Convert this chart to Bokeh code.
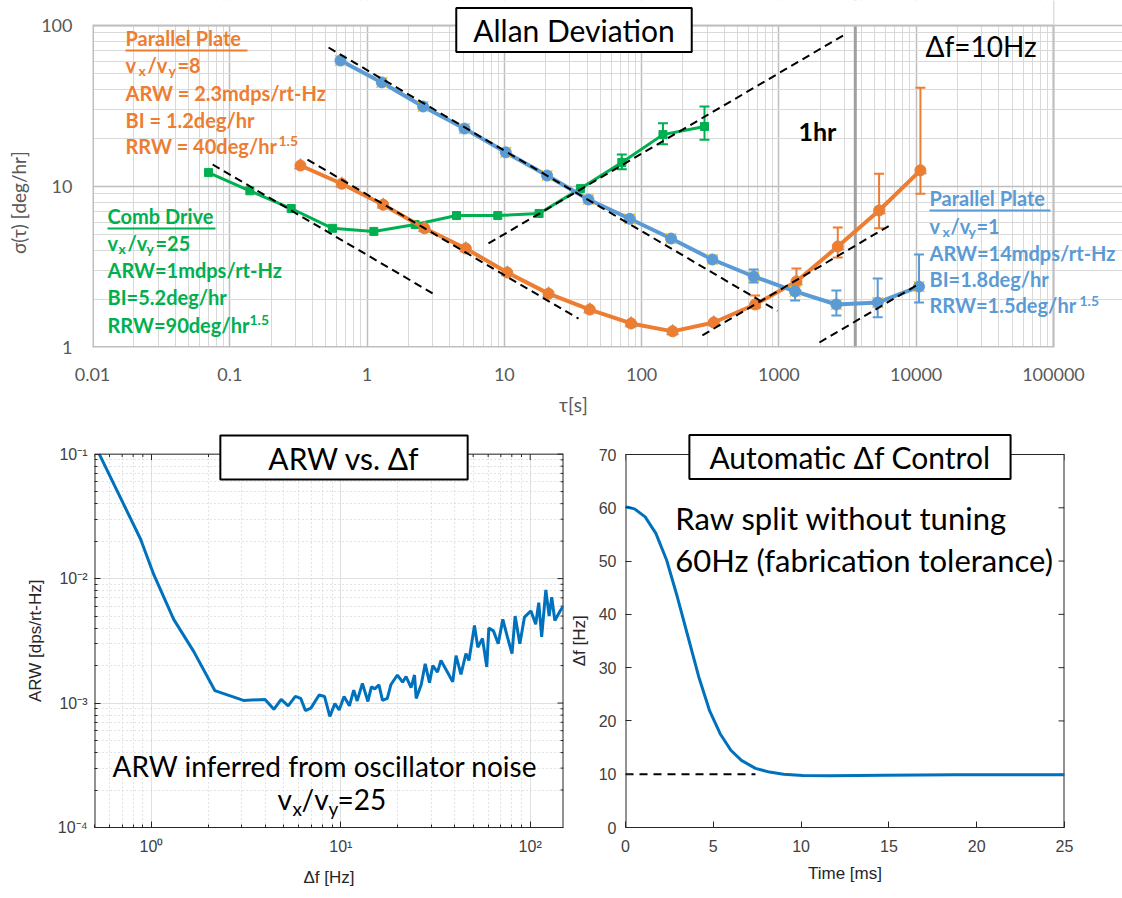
from math import log10
from bokeh.plotting import figure
from bokeh.layouts import column, row
from bokeh.models import (Label, Whisker, ColumnDataSource, TeeHead, FixedTicker,
                          Span, CustomJSTickFormatter)
from bokeh.embed import file_html
from bokeh.resources import INLINE

# ---------------- Allan deviation data (tau [s], sigma [deg/hr]) ----------------
# Parallel plate, vx/vy = 1 (blue)
pp1_tau = [0.64, 1.28, 2.56, 5.12, 10.24, 20.48, 40.96, 81.92, 163.84, 327.68,
           655.36, 1310.72, 2621.44, 5242.88, 10485.76]
pp1_sigma = [60.6, 44.3, 31.4, 22.9, 16.3, 11.7, 8.3, 6.3, 4.75, 3.52,
             2.76, 2.23, 1.85, 1.90, 2.39]
pp1_err_tau = [327.68, 655.36, 1310.72, 2621.44, 5242.88, 10485.76]
pp1_err_lo = [3.35, 2.53, 1.96, 1.58, 1.54, 1.90]
pp1_err_hi = [3.70, 3.05, 2.36, 2.26, 2.68, 3.78]

# Parallel plate, vx/vy = 8 (orange)
pp8_tau = [0.327, 0.654, 1.31, 2.62, 5.24, 10.5, 21.0, 41.9, 83.8, 168,
           335, 671, 1341, 2683, 5366, 10732]
pp8_sigma = [13.5, 10.4, 7.7, 5.5, 4.12, 2.92, 2.16, 1.72, 1.41, 1.26,
             1.43, 1.85, 2.57, 4.24, 7.1, 12.6]
pp8_err_tau = [671, 1341, 2683, 5366, 10732]
pp8_err_lo = [1.75, 2.26, 3.62, 5.5, 9.0]
pp8_err_hi = [2.1, 3.1, 5.57, 12.0, 41.0]

# Comb drive, vx/vy = 25 (green)
cd_tau = [0.07, 0.14, 0.28, 0.56, 1.12, 2.24, 4.48, 8.96, 17.9, 35.8, 71.7, 143, 287]
cd_sigma = [12.2, 9.4, 7.3, 5.5, 5.26, 5.8, 6.6, 6.6, 6.8, 9.7, 14.1, 21.0, 23.6]
cd_err_tau = [71.7, 143, 287]
cd_err_lo = [12.8, 18.3, 19.5]
cd_err_hi = [15.8, 24.7, 31.4]

# Dashed fit lines (ARW slope -1/2, RRW slope +1/2): endpoints
fit_tau0 = [0.524, 0.368, 0.075, 7.66, 277, 1972]
fit_sig0 = [73.0, 14.7, 13.7, 4.43, 1.19, 1.074]
fit_tau1 = [975, 34.7, 3.0, 2951, 6714, 10380]
fit_sig1 = [1.69, 1.51, 2.17, 86.9, 5.86, 2.47]

one_hour_s = 3600

x_ticks_top = [0.01, 0.1, 1, 10, 100, 1000, 10000, 100000]
y_ticks_top = [1, 10, 100]

# ---------------- ARW vs delta f ----------------
arw_f = [0.53, 0.875, 1.03, 1.31, 1.67, 2.16, 3.06, 3.98, 4.43, 4.84, 5.27, 5.75,
         6.14, 6.5, 6.95, 7.68, 8.2, 8.75, 9.3, 9.8, 10.4, 11.1, 11.7, 12.2, 13.0,
         13.9, 14.5, 15.1, 15.9, 16.6, 17.6, 18.4, 19.9, 21.2, 22.1, 23.5, 24.5,
         25.0, 26.6, 27.9, 29.4, 30.6, 32.4, 33.8, 36.6, 39.0, 40.6, 43.1, 45.8,
         47.5, 50.8, 52.9, 56.0, 59.0, 60.5, 64.0, 67.8, 71.7, 75.8, 80.2, 83.3,
         88.2, 93.3, 101, 107, 111, 115, 121, 126, 130, 135, 144, 150]
arw_val = [0.1, 0.0208, 0.0107, 0.0047, 0.0026, 0.00126, 0.00105, 0.00107, 0.00089,
           0.00107, 0.00095, 0.00113, 0.00109, 0.00087, 0.00091, 0.00116, 0.00113,
           0.00078, 0.00099, 0.00088, 0.00113, 0.00095, 0.00127, 0.00104, 0.00144,
           0.00103, 0.00135, 0.0013, 0.0014, 0.00105, 0.00109, 0.00141, 0.00168,
           0.00147, 0.00163, 0.00133, 0.00168, 0.00109, 0.00141, 0.00207, 0.00146,
           0.002, 0.00177, 0.0022, 0.00177, 0.00148, 0.0024, 0.0017, 0.0025, 0.0022,
           0.0042, 0.0028, 0.0033, 0.00195, 0.004, 0.0038, 0.003, 0.0047, 0.0034,
           0.0025, 0.005, 0.003, 0.0049, 0.0055, 0.0043, 0.0064, 0.0034, 0.0081,
           0.005, 0.0071, 0.0046, 0.0055, 0.006]

# ---------------- Automatic delta f control ----------------
t_ms = [0, 0.51, 1.12, 1.73, 2.34, 2.95, 3.56, 4.17, 4.78, 5.39, 6.0, 6.6, 7.4,
        8.2, 9.0, 10.1, 11.7, 14.7, 18.8, 25]
split_hz = [60.2, 59.8, 58.3, 55.2, 50.2, 43.3, 35.8, 28.3, 22.0, 17.6, 14.5, 12.6,
            11.1, 10.4, 10.0, 9.75, 9.7, 9.8, 9.9, 9.9]
target_t = [0, 7.4]
target_hz = [10, 10]

ORANGE = "#ED7D31"
BLUE = "#5B9BD5"
GREEN = "#00B050"
MBLUE = "#0072BD"
NB = "\u00a0"


def log_map(p0, p1, v0, v1):
    a, b = log10(v0), log10(v1)
    return lambda px: 10 ** (a + (px - p0) / (p1 - p0) * (b - a))


def lin_map(p0, p1, v0, v1):
    return lambda px: v0 + (px - p0) / (p1 - p0) * (v1 - v0)


def txt(fig, fx, fy, px, py, s, size, color="black", bold=False, font="Lato"):
    # py is the wanted baseline; the label anchor sits ~0.4em above it
    fig.add_layout(Label(x=fx(px), y=fy(py - 0.4 * size), text=s, text_font=font,
                         text_font_size=f"{size}px", text_color=color,
                         text_font_style="bold" if bold else "normal",
                         text_align="left", text_baseline="alphabetic"))


def ratio(fig, fx, fy, xs, base, dsub, big, small, color, bold, tail):
    parts = [("v", 0, big), ("x", dsub, small), ("/v", 0, big), ("y", dsub, small),
             (tail, 0, big)]
    for (s, dy, sz), x in zip(parts, xs):
        txt(fig, fx, fy, x, base + dy, s, sz, color, bold)


def boxed(fig, fx, fy, cx, cy, s, size, pad):
    fig.add_layout(Label(x=fx(cx), y=fy(cy), text=s, text_font="Lato",
                         text_font_size=f"{size}px", text_color="black",
                         text_align="center", text_baseline="middle",
                         background_fill_color="white", border_line_color="black",
                         border_line_width=2, padding=pad))


def minors(e0, e1, mant=range(2, 10)):
    return [m * 10.0 ** e for e in range(e0, e1) for m in mant]


# ======================= Top: Allan deviation =======================
fx1 = log_map(92, 1053, 0.01, 1e5)
fy1 = log_map(347, 25, 1, 100)
p1 = figure(width=1122, height=430, x_axis_type="log", y_axis_type="log",
            x_range=(0.01, fx1(1122)), y_range=(1, fy1(0)), output_backend="svg",
            toolbar_location=None, min_border_left=92, min_border_right=0,
            min_border_top=0, min_border_bottom=83)
p1.outline_line_color = None
p1.xaxis.ticker = FixedTicker(ticks=x_ticks_top, minor_ticks=minors(-2, 5))
p1.yaxis.ticker = FixedTicker(ticks=y_ticks_top, minor_ticks=minors(0, 2))
fmt = CustomJSTickFormatter(code="return tick.toString();")
for ax in (p1.xaxis, p1.yaxis):
    ax.formatter = fmt
    ax.axis_line_color = None
    ax.major_tick_line_color = None
    ax.minor_tick_line_color = None
    ax.major_tick_out = 0
    ax.minor_tick_out = 0
    ax.major_label_text_font = "Lato"
    ax.major_label_text_font_size = "18px"
    ax.major_label_text_color = "#595959"
    ax.axis_label_text_font = "Lato"
    ax.axis_label_text_font_size = "19px"
    ax.axis_label_text_color = "#595959"
    ax.axis_label_text_font_style = "normal"
p1.xaxis.major_label_standoff = 20
p1.yaxis.major_label_standoff = 20
p1.xaxis.axis_label = "τ[s]" + NB * 14
p1.yaxis.axis_label = "σ(τ) [deg/hr]" + NB * 12
p1.xaxis.axis_label_standoff = 9
p1.yaxis.axis_label_standoff = 8
for g in (p1.xgrid, p1.ygrid):
    g.grid_line_color = "#BEBEBE"
    g.grid_line_width = 1.5
    g.minor_grid_line_color = "#D9D9D9"
    g.minor_grid_line_width = 1

p1.add_layout(Span(location=one_hour_s, dimension="height", line_color="#A0A0A0",
                   line_width=3, level="underlay"))
# white strip above the plot area and the plot border
p1.quad(left=[0.01], right=[1e5], bottom=[100], top=[fy1(0)], fill_color="white",
        line_color=None)
p1.segment(x0=[0.01, 0.01, 0.01, 1e5], y0=[1, 100, 1, 1],
           x1=[1e5, 1e5, 0.01, 1e5], y1=[1, 100, 100, 100],
           line_color="#BFBFBF", line_width=[3, 2, 3, 2])

# series
p1.line(cd_tau, cd_sigma, line_color=GREEN, line_width=3)
p1.scatter(cd_tau, cd_sigma, marker="square", size=8, fill_color=GREEN, line_color=GREEN)

p1.line(pp8_tau, pp8_sigma, line_color=ORANGE, line_width=4)
p1.scatter(pp8_tau, pp8_sigma, marker="triangle", size=12, fill_color="#A5A5A5",
           line_color="#A5A5A5")
p1.scatter(pp8_tau, pp8_sigma, marker="circle", size=11, fill_color=ORANGE, line_color=ORANGE)

p1.line(pp1_tau, pp1_sigma, line_color=BLUE, line_width=4)
p1.scatter(pp1_tau, pp1_sigma, marker="x", size=15, line_color="#FFC000", line_width=1.5)
p1.scatter(pp1_tau, pp1_sigma, marker="circle", size=11, fill_color=BLUE, line_color=BLUE)

for tau, lo, hi, col in ((pp1_err_tau, pp1_err_lo, pp1_err_hi, BLUE),
                         (pp8_err_tau, pp8_err_lo, pp8_err_hi, ORANGE),
                         (cd_err_tau, cd_err_lo, cd_err_hi, GREEN)):
    src = ColumnDataSource(dict(base=tau, lower=lo, upper=hi))
    p1.add_layout(Whisker(source=src, base="base", lower="lower", upper="upper",
                          line_color=col, line_width=2,
                          upper_head=TeeHead(size=10, line_color=col, line_width=2),
                          lower_head=TeeHead(size=10, line_color=col, line_width=2)))

p1.segment(x0=fit_tau0, y0=fit_sig0, x1=fit_tau1, y1=fit_sig1, line_color="black",
           line_width=2, line_dash="8 5")

# text blocks
txt(p1, fx1, fy1, 125, 45, "Parallel Plate", 20, ORANGE, True)
ratio(p1, fx1, fy1, [125, 138, 147, 168, 177], 72, 4, 20, 14, ORANGE, True, "=8")
txt(p1, fx1, fy1, 125, 100, "ARW = 2.3mdps/rt-Hz", 20, ORANGE, True)
txt(p1, fx1, fy1, 125, 127, "BI = 1.2deg/hr", 20, ORANGE, True)
txt(p1, fx1, fy1, 125, 153, "RRW = 40deg/hr", 20, ORANGE, True)
txt(p1, fx1, fy1, 278, 146, "1.5", 14, ORANGE, True)

txt(p1, fx1, fy1, 107, 223, "Comb Drive", 20, GREEN, True)
ratio(p1, fx1, fy1, [107, 118, 127, 146, 155], 250, 4, 20, 14, GREEN, True, "=25")
txt(p1, fx1, fy1, 107, 277, "ARW=1mdps/rt-Hz", 20, GREEN, True)
txt(p1, fx1, fy1, 107, 304, "BI=5.2deg/hr", 20, GREEN, True)
txt(p1, fx1, fy1, 107, 332, "RRW=90deg/hr", 20, GREEN, True)
txt(p1, fx1, fy1, 249, 325, "1.5", 14, GREEN, True)

txt(p1, fx1, fy1, 929, 205, "Parallel Plate", 20, BLUE, True)
ratio(p1, fx1, fy1, [929, 942, 950, 968, 976], 233, 4, 20, 14, BLUE, True, "=1")
txt(p1, fx1, fy1, 929, 260, "ARW=14mdps/rt-Hz", 20, BLUE, True)
txt(p1, fx1, fy1, 929, 286, "BI=1.8deg/hr", 20, BLUE, True)
txt(p1, fx1, fy1, 929, 312, "RRW=1.5deg/hr", 20, BLUE, True)
txt(p1, fx1, fy1, 1079, 306, "1.5", 14, BLUE, True)

ul_x0 = [125, 107, 929]
ul_x1 = [247, 215, 1050]
ul_y = [50, 228, 210]
p1.segment(x0=[fx1(v) for v in ul_x0], x1=[fx1(v) for v in ul_x1],
           y0=[fy1(v) for v in ul_y], y1=[fy1(v) for v in ul_y],
           line_color=[ORANGE, GREEN, BLUE], line_width=2)

txt(p1, fx1, fy1, 798, 140, "1hr", 25, "black", True)
txt(p1, fx1, fy1, 925, 57, "Δf=10Hz", 28, "black", False)
boxed(p1, fx1, fy1, 573.5, 29.5, "Allan Deviation", 30, (17, 4))

# ======================= Bottom-left: ARW vs delta f =======================
fx2 = log_map(94, 563, 0.5, 150)
fy2 = log_map(833, 454, 1e-4, 1e-1)
p2 = figure(width=566, height=468, x_axis_type="log", y_axis_type="log",
            x_range=(0.5, 150), y_range=(1e-4, fy2(430)), output_backend="svg",
            toolbar_location=None, min_border_left=94, min_border_right=3,
            min_border_top=0, min_border_bottom=65)

sup_fmt = CustomJSTickFormatter(code="""
const e = Math.round(Math.log10(tick));
const m = {"-": "\u207b", "0": "\u2070", "1": "\u00b9", "2": "\u00b2", "3": "\u00b3", "4": "\u2074"};
return "10" + String(e).split("").map(c => m[c]).join("");
""")
p2_xmajor = [1, 10, 100]
p2_xminor = [0.5, 0.6, 0.7, 0.8, 0.9] + minors(0, 2)
p2_ymajor = [1e-4, 1e-3, 1e-2, 1e-1]
p2_yminor = minors(-4, -1)
p2.xaxis.ticker = FixedTicker(ticks=p2_xmajor, minor_ticks=p2_xminor)
p2.yaxis.ticker = FixedTicker(ticks=p2_ymajor, minor_ticks=p2_yminor)
p2.outline_line_color = None
for g in (p2.xgrid, p2.ygrid):
    g.grid_line_color = "#E0E0E0"
    g.grid_line_width = 1
    g.minor_grid_line_color = "#C8C8C8"
    g.minor_grid_line_dash = "1 3"
    g.minor_grid_line_width = 1

# ======================= Bottom-right: automatic control =======================
fx3 = lin_map(623, 1064, 0, 25)
fy3 = lin_map(827, 454, 0, 70)
p3 = figure(width=556, height=468, x_range=(0, 25), y_range=(0, fy3(430)),
            output_backend="svg", toolbar_location=None, min_border_left=57,
            min_border_right=58, min_border_top=0, min_border_bottom=71)
p3_xticks = [0, 5, 10, 15, 20, 25]
p3_yticks = [0, 10, 20, 30, 40, 50, 60, 70]
p3.xaxis.ticker = FixedTicker(ticks=p3_xticks)
p3.yaxis.ticker = FixedTicker(ticks=p3_yticks)
p3.grid.visible = False
p3.outline_line_color = None

for p in (p2, p3):
    for ax in (p.xaxis, p.yaxis):
        ax.axis_line_color = "#262626"
        ax.major_tick_line_color = "#262626"
        ax.major_tick_in = 6
        ax.major_tick_out = 0
        ax.minor_tick_in = 3
        ax.minor_tick_out = 0
        ax.minor_tick_line_color = "#262626"
        ax.major_label_text_font = "Liberation Sans"
        ax.major_label_text_font_size = "16px"
        ax.major_label_text_color = "#404040"
        ax.axis_label_text_font = "Liberation Sans"
        ax.axis_label_text_font_size = "17px"
        ax.axis_label_text_color = "#262626"
        ax.axis_label_text_font_style = "normal"
    p.yaxis.axis_line_color = None

p2.xaxis.formatter = sup_fmt
p2.yaxis.formatter = sup_fmt
p3.xaxis.minor_tick_line_color = None
p3.yaxis.minor_tick_line_color = None

p2.xaxis.axis_label = "Δf [Hz]"
p2.yaxis.axis_label = "ARW [dps/rt-Hz]" + NB * 5
p2.xaxis.major_label_standoff = 10
p2.yaxis.major_label_standoff = 7
p2.xaxis.axis_label_standoff = 10
p2.yaxis.axis_label_standoff = 10

p3.xaxis.axis_label = "Time [ms]"
p3.yaxis.axis_label = "Δf [Hz]" + NB * 5
p3.xaxis.major_label_standoff = 12
p3.yaxis.major_label_standoff = 9
p3.xaxis.axis_label_standoff = 9
p3.yaxis.axis_label_standoff = 7

# cover the strip above the plot area and draw the box (with inward ticks on top/right)
p2.quad(left=[0.5], right=[150], bottom=[0.1], top=[fy2(430)], fill_color="white",
        line_color=None)
p2.segment(x0=[0.5, 0.5, 150], y0=[0.1, 1e-4, 1e-4], x1=[150, 0.5, 150],
           y1=[0.1, 0.1, 0.1], line_color="#262626", line_width=[1, 2, 2])
p2.segment(x0=p2_xmajor, x1=p2_xmajor, y0=[0.1] * 3, y1=[fy2(460)] * 3,
           line_color="#262626", line_width=1)
p2.segment(x0=p2_xminor, x1=p2_xminor, y0=[0.1] * len(p2_xminor),
           y1=[fy2(457)] * len(p2_xminor), line_color="#262626", line_width=1)
p2.segment(x0=[150] * 4, x1=[fx2(557)] * 4, y0=p2_ymajor, y1=p2_ymajor,
           line_color="#262626", line_width=1)
p2.segment(x0=[150] * len(p2_yminor), x1=[fx2(560)] * len(p2_yminor), y0=p2_yminor,
           y1=p2_yminor, line_color="#262626", line_width=1)

p3.segment(x0=[0, 0, 25], y0=[70, 0, 0], x1=[25, 0, 25], y1=[70, 70, 70],
           line_color="#262626", line_width=[1, 2, 2])
p3.segment(x0=p3_xticks, x1=p3_xticks, y0=[70] * 6, y1=[fy3(460)] * 6,
           line_color="#262626", line_width=1)
p3.segment(x0=[25] * 8, x1=[fx3(1058)] * 8, y0=p3_yticks, y1=p3_yticks,
           line_color="#262626", line_width=1)

p2.line(arw_f, arw_val, line_color=MBLUE, line_width=3)
txt(p2, fx2, fy2, 112, 782, "ARW inferred from oscillator noise", 28)
ratio(p2, fx2, fy2, [277, 292, 301, 328, 337], 815, 6, 28, 19, "black", False, "=25")
boxed(p2, fx2, fy2, 343.5, 457.5, "ARW vs. Δf", 30, (48, 4))

p3.line(target_t, target_hz, line_color="black", line_width=2, line_dash="8 6")
p3.line(t_ms, split_hz, line_color=MBLUE, line_width=3)
txt(p3, fx3, fy3, 673, 530, "Raw split without tuning", 31)
txt(p3, fx3, fy3, 673, 572, "60Hz (fabrication tolerance)", 31)
boxed(p3, fx3, fy3, 848.5, 456.5, "Automatic Δf Control", 30, (20, 4))

layout = column(p1, row(p2, p3, spacing=0), spacing=0)
open("out.html", "w").write(file_html(layout, INLINE))
